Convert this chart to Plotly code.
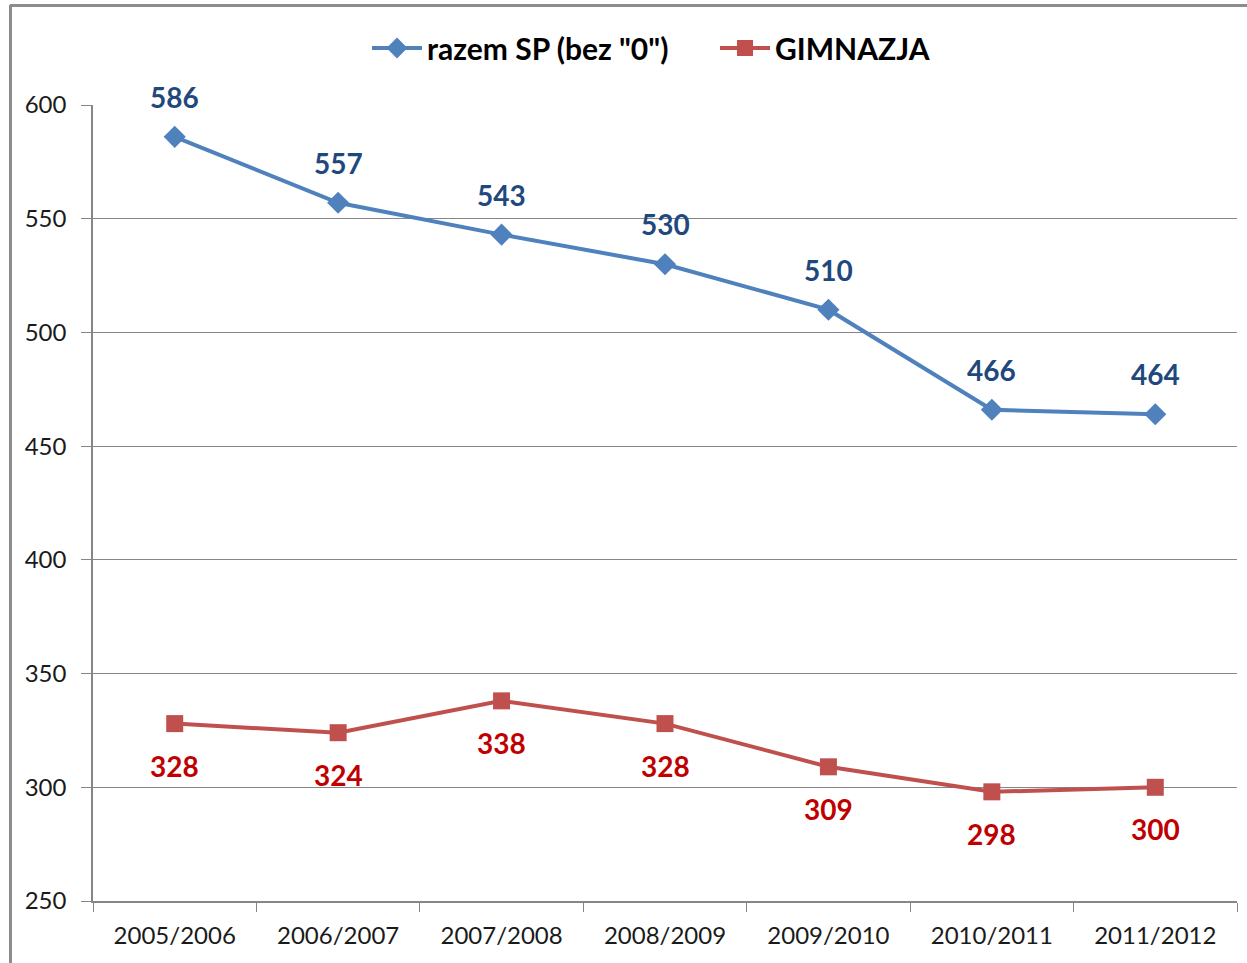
import plotly.graph_objects as go

categories = ["2005/2006", "2006/2007", "2007/2008", "2008/2009", "2009/2010", "2010/2011", "2011/2012"]
sp_values = [586, 557, 543, 530, 510, 466, 464]
gim_values = [328, 324, 338, 328, 309, 298, 300]
sp_name = 'razem SP (bez "0")'
gim_name = "GIMNAZJA"

FONT = "Lato, Open Sans, sans-serif"

fig = go.Figure()
fig.add_trace(go.Scatter(
    x=categories, y=sp_values, name=sp_name, mode="lines+markers",
    line=dict(color="#4F81BD", width=4),
    marker=dict(symbol="diamond", size=17, color="#4F81BD"),
))
fig.add_trace(go.Scatter(
    x=categories, y=gim_values, name=gim_name, mode="lines+markers",
    line=dict(color="#C0504D", width=4),
    marker=dict(symbol="square", size=17, color="#C0504D"),
))

annotations = []
for c, v in zip(categories, sp_values):
    annotations.append(dict(x=c, y=v, text=str(v), showarrow=False, yshift=40,
                            font=dict(family=FONT, size=28, color="#1F497D", weight="bold")))
for c, v in zip(categories, gim_values):
    annotations.append(dict(x=c, y=v, text=str(v), showarrow=False, yshift=-42,
                            font=dict(family=FONT, size=28, color="#C00000", weight="bold")))

fig.update_layout(
    width=1247, height=963,
    margin=dict(l=93, r=10, t=105, b=62, autoexpand=False),
    paper_bgcolor="white", plot_bgcolor="white",
    font=dict(family=FONT, size=24, color="#1a1a1a"),
    showlegend=True,
    legend=dict(orientation="h", x=(367 - 93) / 1144, y=1 - 48 / 963, xref="paper", yref="container",
                xanchor="left", yanchor="middle",
                font=dict(family=FONT, size=30, color="black", weight="bold"),
                itemwidth=50, traceorder="normal", entrywidth=283, entrywidthmode="pixels"),
    annotations=annotations,
    xaxis=dict(type="category", range=[-0.5, 6.5], showgrid=False,
               showline=True, linecolor="#868686", linewidth=1.5,
               ticks="outside", tickson="boundaries", ticklen=9, tickcolor="#868686",
               tickfont=dict(family=FONT, size=24, color="#1a1a1a"), ticklabelstandoff=12),
    yaxis=dict(range=[250, 600], tick0=250, dtick=50, showgrid=True,
               gridcolor="#868686", gridwidth=1,
               showline=True, linecolor="#868686", linewidth=1.5,
               ticks="outside", ticklen=10, tickcolor="#868686",
               tickfont=dict(family=FONT, size=24, color="#1a1a1a"), zeroline=False,
               ticklabelstandoff=10),
)

plot_w = 1247 - 93 - 10
plot_h = 963 - 105 - 62
def px_to_paper_x(px):
    return (px - 93) / plot_w
def px_to_paper_y(py):
    return (963 - 62 - py) / plot_h

fig.add_shape(type="line", xref="paper", yref="paper",
              x0=px_to_paper_x(10), x1=px_to_paper_x(1250),
              y0=px_to_paper_y(5.5), y1=px_to_paper_y(5.5),
              line=dict(color="#8c8c8c", width=3))
fig.add_shape(type="line", xref="paper", yref="paper",
              x0=px_to_paper_x(10.5), x1=px_to_paper_x(10.5),
              y0=px_to_paper_y(5), y1=px_to_paper_y(970),
              line=dict(color="#8c8c8c", width=3))

fig.write_html("out.html", config={"displayModeBar": False},
               post_script="document.body.style.margin='0';document.body.style.overflow='hidden';")
